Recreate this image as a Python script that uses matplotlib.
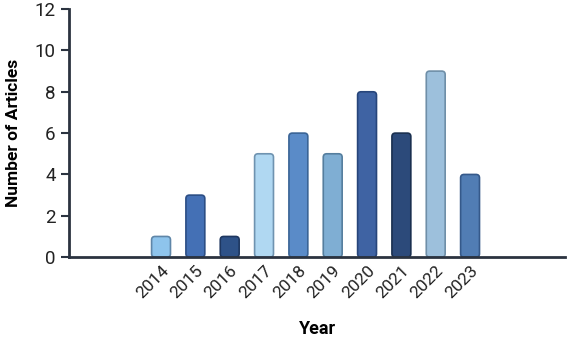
import matplotlib
matplotlib.use("Agg")
import matplotlib.pyplot as plt
from matplotlib.patches import FancyBboxPatch

years = ["2014", "2015", "2016", "2017", "2018", "2019", "2020", "2021", "2022", "2023"]
counts = [1, 3, 1, 5, 6, 5, 8, 6, 9, 4]
colors = ["#8EC4EC", "#4470B5", "#2E5288", "#B0D8F2", "#5A8BC8",
          "#7FAED3", "#3F63A3", "#2C4A7A", "#9DC0DC", "#517DB4"]
edges = ["#5F86A8", "#2C4E85", "#1E3760", "#6F93B0", "#3A6496",
         "#557E9E", "#27457A", "#1A3050", "#6F8FA8", "#35598A"]

plt.rcParams["font.family"] = ["Roboto", "DejaVu Sans"]
AXIS = "#2B3340"

fig = plt.figure(figsize=(5.68, 3.37), dpi=100)
ax = fig.add_axes([0.1215, 0.237, 0.8735, 0.736])

x = list(range(len(years)))
bars = ax.bar(x, counts, width=0.55, color=colors, edgecolor=edges, linewidth=1.2)

# swap plain bars for rounded ones (aspect = px per x unit / px per y unit)
for b, fc, ec in zip(bars, colors, edges):
    b.set_visible(False)
    rb = FancyBboxPatch((b.get_x(), b.get_y()), b.get_width(), b.get_height(),
                        boxstyle="round,pad=0,rounding_size=0.1",
                        mutation_aspect=1.66,
                        facecolor=fc, edgecolor=ec, linewidth=1.2, zorder=2)
    ax.add_patch(rb)

ax.set_xlim(-2.68, 11.77)
ax.set_ylim(0, 12)
ax.set_yticks(range(0, 13, 2))
ax.set_xticks(x)
ax.set_xticklabels(years, rotation=45, ha="right", rotation_mode="anchor")

for s in ["top", "right"]:
    ax.spines[s].set_visible(False)
for s in ["left", "bottom"]:
    ax.spines[s].set_color(AXIS)
    ax.spines[s].set_linewidth(2)
ax.tick_params(axis="y", length=6, width=1.5, color=AXIS, labelsize=13.5, labelcolor="#222222")
ax.tick_params(axis="x", length=0, labelsize=12.5, labelcolor="#222222", pad=4)

ax.set_ylabel("Number of Articles", fontsize=12.5, fontweight="bold", labelpad=10)
ax.set_xlabel("Year", fontsize=13, fontweight="bold", labelpad=14)

fig.savefig("out.png", dpi=100)
